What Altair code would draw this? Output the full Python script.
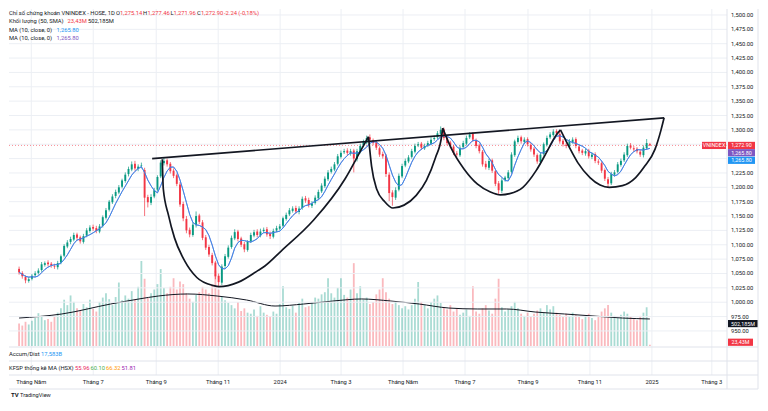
import altair as alt
import pandas as pd

FONT = "Roboto"
UP, DOWN = "#089981", "#f23645"
BLUE, PURPLE = "#2196f3", "#7e57c2"
TEXT, GRID, BORDER = "#131722", "#eceff4", "#e0e3eb"

# ---------------- data ----------------
first_day, last_day = "2023-04-19", "2024-12-30"

closes = [1052,1045,1038, 1040,1046,1050, 1055,1066,1068, 1066,1064,1062, 1068,1080,1098, 1104,1110,1117, 1112,1106,1115, 1125,1130,1128, 1124,1132,1148, 1160,1175,1184,
          1192,1200,1212, 1222,1232,1240, 1233,1236,1238, 1182,1174,1183, 1195,1218,1243, 1246,1240,1228, 1220,1206,1170, 1146,1125,1118, 1135,1150,1140, 1112,1095,1083,
          1068,1045,1035, 1062,1080,1095, 1112,1122,1110, 1100,1092,1105, 1117,1122,1117, 1123,1126,1118, 1115,1124,1129, 1132,1146,1152, 1160,1163,1158, 1163,1180,1177,
          1169,1172,1182, 1192,1203,1215, 1226,1232,1240, 1254,1260,1263, 1260,1263,1250, 1263,1272,1279, 1286,1283,1277, 1269,1257,1254, 1223,1190,1183, 1195,1220,1237,
          1246,1252,1263, 1272,1275,1269, 1272,1277,1283, 1286,1294,1300, 1286,1277,1272, 1260,1257,1269, 1277,1286,1292, 1283,1272,1263, 1240,1235,1246, 1229,1206,1195,
          1212,1217,1226, 1257,1280,1286, 1280,1283,1275, 1266,1257,1245, 1257,1275,1286, 1292,1297,1294, 1280,1275,1272, 1280,1283,1272, 1263,1260,1263, 1254,1257,1246,
          1243,1229,1215, 1206,1223,1226, 1240,1246,1257, 1272,1269,1266, 1263,1257,1269, 1277,1272.90]

opens = [1058,1051,1044, 1037,1041,1047, 1051,1056,1065, 1069,1067,1063, 1061,1069,1081, 1097,1105,1109, 1118,1113,1105, 1116,1124,1131, 1129,1123,1133, 1147,1161,1174,
         1185,1191,1201, 1211,1223,1231, 1241,1232,1237, 1230,1183,1173, 1184,1196,1219, 1242,1247,1241, 1229,1221,1205, 1171,1145,1126, 1117,1134,1151, 1139,1113,1096,
         1082,1069,1046, 1034,1063,1079, 1096,1111,1123, 1111,1101,1091, 1106,1116,1123, 1116,1124,1127, 1119,1114,1125, 1128,1133,1145, 1153,1159,1164, 1157,1164,1181,
         1178,1168,1173, 1181,1193,1202, 1214,1227,1231, 1241,1253,1261, 1264,1259,1264, 1249,1262,1273, 1278,1287,1282, 1278,1268,1258, 1255,1222,1191, 1182,1196,1219,
         1238,1245,1253, 1262,1273,1276, 1268,1273,1276, 1284,1287,1293, 1301,1285,1278, 1271,1259,1256, 1270,1276,1287, 1293,1282,1273, 1262,1241,1234, 1247,1228,1207,
         1194,1213,1216, 1227,1256,1279, 1287,1279,1284, 1274,1267,1256, 1244,1258,1274, 1287,1291,1298, 1293,1281,1274, 1271,1279,1284, 1271,1264,1259, 1264,1253,1258,
         1245,1242,1230, 1214,1207,1222, 1227,1239,1247, 1256,1273,1268, 1267,1262,1256, 1268,1275.14]

highs = [1062,1054,1047, 1044,1049,1054, 1059,1070,1071, 1073,1070,1067, 1072,1083,1101, 1108,1114,1121, 1121,1116,1119, 1129,1134,1135, 1133,1136,1151, 1164,1178,1188,
         1196,1204,1215, 1226,1236,1245, 1246,1240,1243, 1234,1187,1188, 1199,1221,1247, 1252,1250,1244, 1233,1224,1209, 1175,1150,1130, 1139,1158,1154, 1143,1117,1100,
         1086,1072,1050, 1066,1084,1099, 1116,1127,1126, 1114,1105,1108, 1121,1126,1127, 1128,1130,1131, 1123,1128,1133, 1136,1149,1156, 1164,1167,1168, 1167,1184,1185,
         1182,1176,1186, 1196,1207,1219, 1230,1236,1244, 1258,1264,1267, 1268,1267,1267, 1267,1276,1283, 1290,1292,1285, 1281,1271,1262, 1258,1226,1195, 1200,1224,1241,
         1250,1256,1267, 1276,1279,1279, 1276,1281,1287, 1290,1298,1306, 1304,1289,1281, 1274,1263,1273, 1281,1290,1296, 1296,1285,1276, 1265,1246,1250, 1250,1231,1211,
         1216,1220,1230, 1261,1283,1290, 1290,1287,1287, 1277,1270,1259, 1261,1278,1290, 1296,1301,1301, 1296,1284,1277, 1284,1287,1287, 1274,1267,1267, 1267,1261,1261,
         1249,1245,1233, 1218,1227,1230, 1244,1250,1261, 1276,1277,1272, 1270,1265,1273, 1284,1277.46]

lows = [1048,1041,1033, 1034,1038,1044, 1048,1053,1062, 1062,1060,1058, 1057,1066,1078, 1094,1101,1106, 1108,1102,1102, 1113,1121,1124, 1120,1120,1130, 1144,1158,1171,
        1181,1188,1198, 1208,1219,1228, 1229,1228,1233, 1150,1165,1169, 1181,1193,1216, 1238,1236,1224, 1216,1202,1166, 1141,1120,1113, 1114,1130,1136, 1108,1091,1079,
        1064,1040,1026, 1030,1059,1076, 1093,1108,1106, 1096,1087,1088, 1103,1113,1113, 1113,1121,1114, 1110,1111,1122, 1125,1130,1142, 1150,1156,1154, 1153,1161,1173,
        1165,1164,1170, 1178,1190,1199, 1211,1224,1228, 1238,1250,1258, 1255,1255,1226, 1245,1259,1270, 1275,1280,1273, 1265,1253,1250, 1218,1176,1168, 1178,1193,1216,
        1235,1242,1250, 1259,1270,1265, 1265,1270,1273, 1281,1284,1290, 1282,1273,1268, 1256,1253,1253, 1267,1273,1284, 1279,1268,1259, 1236,1231,1230, 1225,1202,1187,
        1190,1210,1213, 1224,1253,1276, 1276,1276,1271, 1262,1253,1241, 1240,1255,1271, 1284,1288,1290, 1276,1271,1268, 1268,1276,1268, 1259,1256,1255, 1250,1249,1242,
        1239,1225,1211, 1200,1204,1219, 1224,1236,1244, 1253,1266,1262, 1259,1253,1252, 1265,1271.96]

# volume, millions of shares
volumes = [420,380,450, 400,470,520, 610,560,480, 500,450,560, 620,700,860, 760,940,820, 700,650,780, 720,860,690, 640,820,900, 980,870,760,
           910,1180,850, 940,880,1020, 860,1100,1580, 1250,900,980, 1050,1150,1430, 1080,980,1100, 1260,1050,1200, 1150,980,880, 820,950,1000, 1100,1050,980,
           1150,1400,1050, 920,850,800, 760,700,820, 650,700,620, 600,680,560, 740,620,580, 550,640,600, 780,1110,720, 690,750,620, 800,880,720,
           740,820,900, 880,960,1000, 1260,980,900, 1080,1260,950, 900,1050,1540, 980,1110,860, 900,780,820, 960,1050,1260, 1000,880,780, 820,760,700,
           740,680,760, 880,1190,820, 760,700,820, 880,940,800, 720,680,760, 640,700,580, 620,680,560, 1110,640,600, 700,760,660, 600,880,1250,
           720,640,680, 740,820,700, 600,560,620, 540,600,660, 700,620,760, 680,740,620, 580,540,600, 560,620,580, 540,500,560, 600,520,480,
           560,640,700, 760,620,560, 520,580,640, 600,540,500, 480,560,620, 720,23.43]

vol_ma_dates = ["2023-04-19","2023-05-31","2023-07-18","2023-08-15","2023-09-03","2023-10-02","2023-10-31","2023-11-29",
                "2023-12-27","2024-01-24","2024-02-22","2024-03-21","2024-04-19","2024-05-17","2024-06-15","2024-07-13",
                "2024-08-11","2024-09-08","2024-10-07","2024-11-04","2024-12-03","2024-12-30"]
vol_ma_values = [520,595,780,874,929,967,929,855,743,780,836,874,836,780,706,688,688,632,595,558,520,502.185]

# hand-drawn pattern lines (date, price)
trend_dates = ["2023-08-28", "2025-01-13"]
trend_prices = [1250, 1321]
cup1_dates = ["2023-09-07","2023-09-08","2023-09-13","2023-09-19","2023-09-29","2023-10-11","2023-10-27","2023-11-02",
              "2023-11-21","2023-12-10","2023-12-17","2024-01-02","2024-02-03","2024-03-05","2024-03-21","2024-03-28"]
cup1_prices = [1249,1197,1152,1112,1072,1043,1029,1027,1035,1055,1063,1089,1143,1215,1266,1288]
cup2_dates = ["2024-03-28","2024-03-31","2024-04-05","2024-04-13","2024-04-21","2024-05-02","2024-05-14","2024-05-24",
              "2024-06-02","2024-06-08","2024-06-09"]
cup2_prices = [1288,1237,1197,1175,1164,1169,1186,1212,1252,1289,1303]
cup3_dates = ["2024-06-09","2024-06-18","2024-06-30","2024-07-13","2024-07-26","2024-08-05","2024-08-14","2024-08-27",
              "2024-09-09","2024-09-19","2024-09-28","2024-10-03"]
cup3_prices = [1303,1266,1232,1206,1192,1187,1189,1200,1229,1260,1289,1300]
cup4_dates = ["2024-10-03","2024-10-11","2024-10-20","2024-11-01","2024-11-11","2024-11-20","2024-12-03","2024-12-16",
              "2024-12-25","2025-01-04","2025-01-10","2025-01-13"]
cup4_prices = [1300,1272,1243,1217,1204,1200,1203,1217,1237,1266,1300,1321]

tick_dates = ["2023-05-01","2023-07-01","2023-09-01","2023-11-01","2024-01-01","2024-03-01",
              "2024-05-01","2024-07-01","2024-09-01","2024-11-01","2025-01-01","2025-03-01"]
tick_labels = ["Tháng Năm","Tháng 7","Tháng 9","Tháng 11","2024","Tháng 3","Tháng Năm","Tháng 7","Tháng 9","Tháng 11","2025","Tháng 3"]
price_ticks = list(range(950, 1501, 25))
# price labels that are not covered by the price tags on the scale
price_labels = [950, 975, 1000, 1025, 1050, 1075, 1100, 1125, 1150, 1175, 1200, 1225,
                1300, 1325, 1350, 1375, 1400, 1425, 1450, 1475, 1500]

last_close, ma_last = 1272.90, 1265.80
vol_last, vol_ma_last = 23.43, 502.185

# ---------------- frames ----------------
dates = pd.date_range(first_day, last_day, periods=len(closes))
df = pd.DataFrame({"date": dates.strftime("%Y-%m-%dT%H:%M"), "open": opens, "high": highs,
                   "low": lows, "close": closes, "volume": volumes})
vma_df = pd.DataFrame({"date": [d + "T00:00" for d in vol_ma_dates], "v": vol_ma_values})
rows = []
for name, ds, ps in [("trend", trend_dates, trend_prices), ("cup1", cup1_dates, cup1_prices),
                     ("cup2", cup2_dates, cup2_prices), ("cup3", cup3_dates, cup3_prices),
                     ("cup4", cup4_dates, cup4_prices)]:
    for d, p in zip(ds, ps):
        rows.append({"shape": name, "date": d + "T00:00", "price": p})
ann_df = pd.DataFrame(rows)
xtick_df = pd.DataFrame({"date": [d + "T00:00" for d in tick_dates], "t": tick_labels})
ygrid_df = pd.DataFrame({"v": price_ticks})
ylab_df = pd.DataFrame({"v": price_labels})
dummy = pd.DataFrame({"a": [0]})

# ---------------- scales ----------------
W, H = 718, 366
x_scale = alt.Scale(domain=[alt.DateTime(year=2023, month=4, date=14), alt.DateTime(year=2025, month=3, date=11)])
p_scale = alt.Scale(domain=[873.3, 1510.4], nice=False, zero=False)
v_scale = alt.Scale(domain=[-539, 6264], nice=False, zero=False)

Xn = alt.X("date:T", scale=x_scale, axis=None)
color = alt.Color("dir:N", scale=alt.Scale(domain=["up", "down"], range=[UP, DOWN]), legend=None)
base = alt.Chart(df).transform_calculate(dir="datum.close >= datum.open ? 'up' : 'down'")


def tag(value, text, bg, scale, x1, x2, dy=0.0):
    d = alt.Chart(pd.DataFrame({"v": [value], "t": [text]}))
    y = alt.Y("v:Q", scale=scale, axis=None)
    box = d.mark_rect(color=bg, yOffset=dy - 3.6, y2Offset=dy + 3.6).encode(
        x=alt.value(x1), x2=alt.value(x2), y=y, y2="v:Q")
    txt = d.mark_text(color="white", fontSize=5.4, dy=dy, baseline="middle", align="center", font=FONT).encode(
        x=alt.value((x1 + x2) / 2), y=y, text="t:N")
    return [box, txt]


def label(text, x, y, col=TEXT, size=5.8, weight="normal"):
    return alt.Chart(dummy).mark_text(text=text, align="left", baseline="middle", fontSize=size,
                                      color=col, font=FONT, fontWeight=weight).encode(
        x=alt.value(x), y=alt.value(y))


def hline(y, x1, x2):
    return alt.Chart(dummy).mark_rule(color=BORDER, strokeWidth=1).encode(
        x=alt.value(x1), x2=alt.value(x2), y=alt.value(y))


def vline(x, y1, y2):
    return alt.Chart(dummy).mark_rule(color=BORDER, strokeWidth=1).encode(
        x=alt.value(x), y=alt.value(y1), y2=alt.value(y2))


# ---------------- time axis (grid + labels) ----------------
x_grid = alt.Chart(xtick_df).mark_rule(color=GRID, strokeWidth=1).encode(
    x=Xn, y=alt.value(0), y2=alt.value(H))
x_labels = alt.Chart(xtick_df).mark_text(align="center", baseline="middle", fontSize=5.8,
                                          color=TEXT, font=FONT).encode(
    x=Xn, y=alt.value(H + 7), text="t:N")

# ---------------- volume pane ----------------
vol_bars = base.mark_bar(width=1.8, opacity=0.35).encode(
    x=Xn, y=alt.Y("volume:Q", scale=v_scale, axis=None, stack=None), color=color)
vol_ma = alt.Chart(vma_df).mark_line(color=TEXT, strokeWidth=1, interpolate="monotone").encode(
    x=Xn, y=alt.Y("v:Q", scale=v_scale, axis=None))
vol_tags = (tag(vol_ma_last, "502,185M", TEXT, v_scale, W + 1, W + 31, dy=4.6)
            + tag(vol_last, "23,43M", DOWN, v_scale, W + 1, W + 26, dy=-2.5))
vol_layer = alt.layer(x_grid, vol_bars, vol_ma, *vol_tags)

# ---------------- price pane ----------------
Yv = alt.Y("v:Q", scale=p_scale, axis=None)
y_grid = alt.Chart(ygrid_df).mark_rule(color=GRID, strokeWidth=1).encode(
    y=Yv, x=alt.value(0), x2=alt.value(W))
y_labels = alt.Chart(ylab_df).transform_calculate(t="format(datum.v, ',.2f')").mark_text(
    align="left", baseline="middle", fontSize=5.8, color=TEXT, font=FONT).encode(
    y=Yv, x=alt.value(W + 4), text="t:N")
wicks = base.mark_rule(strokeWidth=0.7).encode(
    x=Xn, y=alt.Y("low:Q", scale=p_scale, axis=None), y2="high:Q", color=color)
bodies = base.mark_bar(width=1.9).encode(
    x=Xn, y=alt.Y("open:Q", scale=p_scale, axis=None), y2="close:Q", color=color)
ma_src = alt.Chart(df).transform_window(ma="mean(close)", frame=[-4, 0], sort=[alt.SortField("date")])
ma_p = ma_src.mark_line(color=PURPLE, strokeWidth=0.9).encode(x=Xn, y=alt.Y("ma:Q", scale=p_scale, axis=None))
ma_b = ma_src.mark_line(color=BLUE, strokeWidth=0.9, opacity=0.85).encode(x=Xn, y=alt.Y("ma:Q", scale=p_scale, axis=None))
last_line = alt.Chart(pd.DataFrame({"v": [last_close]})).mark_rule(
    color=DOWN, strokeDash=[1, 2], strokeWidth=0.8, opacity=0.7).encode(
    y=Yv, x=alt.value(0), x2=alt.value(W))
ann = alt.Chart(ann_df).mark_line(color=TEXT, strokeWidth=1.7, interpolate="monotone").encode(
    x=Xn, y=alt.Y("price:Q", scale=p_scale, axis=None), detail="shape:N")
price_tags = (tag(last_close, "VNINDEX", DOWN, p_scale, W - 25, W - 1)
              + tag(last_close, "1,272.90", DOWN, p_scale, W + 1, W + 28)
              + tag(ma_last, "1,265.80", PURPLE, p_scale, W + 1, W + 28, dy=3.2)
              + tag(ma_last, "1,265.80", BLUE, p_scale, W + 1, W + 28, dy=10.8))
price_layer = alt.layer(y_grid, y_labels, last_line, wicks, bodies, ma_p, ma_b, ann, *price_tags)

# ---------------- texts & frame ----------------
texts = [
    label("Chỉ số chứng khoán VNINDEX - HOSE, 1D", 0, 3.5),
    label("O", 107, 3.5), label("1,275.14", 111, 3.5, DOWN),
    label("H", 134, 3.5), label("1,277.46", 138.5, 3.5, DOWN),
    label("L", 161.5, 3.5), label("1,271.96", 164.5, 3.5, DOWN),
    label("C", 188, 3.5), label("1,272.90", 192, 3.5, DOWN),
    label("-2.24 (-0,18%)", 215, 3.5, DOWN),
    label("Khối lượng (50, SMA)", 0, 12), label("23,43M", 58.5, 12, DOWN), label("502,185M", 79, 12),
    label("MA (10, close, 0)", 0, 20.5), label("1,265.80", 47.5, 20.5, BLUE),
    label("MA (10, close, 0)", 0, 29), label("1,265.80", 47.5, 29, PURPLE),
    label("Accum/Dist", 0, 345), label("17,583B", 32, 345, BLUE),
    label("KFSP thống kê MA (HSX)", 0, 359), label("55.96", 66, 359, "#e91e63"),
    label("60.10", 81.5, 359, "#4caf50"), label("66.32", 97, 359, "#ff9800"),
    label("51.81", 112.5, 359, "#9c27b0"),
    label("TV", 2, 386, TEXT, 6, "bold"), label("TradingView", 11, 386, TEXT, 5.6),
]
frame = [hline(338, 0, W + 31), hline(352, 0, W + 31), hline(366, 0, W + 31), hline(380, 0, W + 31),
         vline(W, 0, 380), vline(W + 31, 0, 380)]

chart = alt.layer(vol_layer, price_layer, x_labels, *frame, *texts).resolve_scale(y="independent").properties(
    width=W, height=H, padding=0
).configure(font=FONT).configure_view(stroke=None)

chart.save("out.html", embed_options={"renderer": "svg", "actions": False})
